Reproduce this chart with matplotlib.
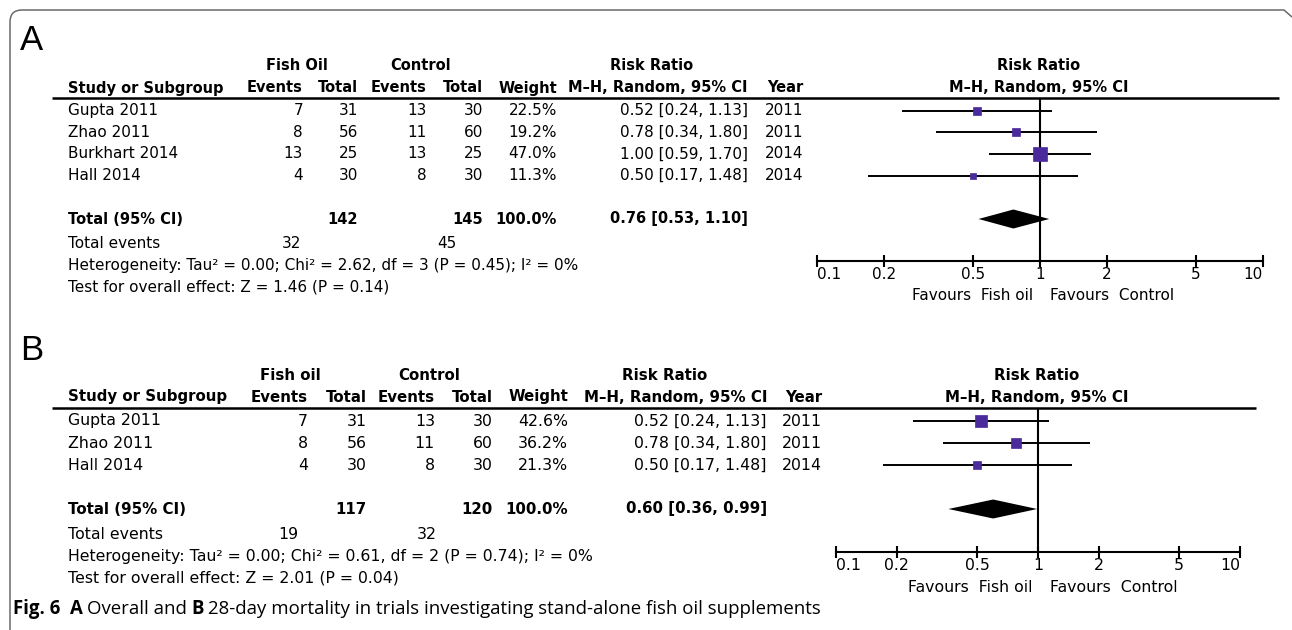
import numpy as np
import matplotlib.pyplot as plt
from matplotlib.path import Path
from matplotlib.patches import PathPatch, Polygon

W, H = 1292, 630
PURPLE = '#4b2a9c'

plt.rcParams['font.family'] = ['DejaVu Sans']

# Panel A: overall mortality
studies_a = ['Gupta 2011', 'Zhao 2011', 'Burkhart 2014', 'Hall 2014']
fo_events_a = [7, 8, 13, 4]
fo_total_a = [31, 56, 25, 30]
ctl_events_a = [13, 11, 13, 8]
ctl_total_a = [30, 60, 25, 30]
weight_a = [22.5, 19.2, 47.0, 11.3]
rr_a = [0.52, 0.78, 1.00, 0.50]
lo_a = [0.24, 0.34, 0.59, 0.17]
hi_a = [1.13, 1.80, 1.70, 1.48]
year_a = [2011, 2011, 2014, 2014]
pooled_a = [0.76, 0.53, 1.10]
sum_total_a = [142, 145]
sum_events_a = [32, 45]
het_a = 'Heterogeneity: Tau² = 0.00; Chi² = 2.62, df = 3 (P = 0.45); I² = 0%'
overall_a = 'Test for overall effect: Z = 1.46 (P = 0.14)'

# Panel B: 28-day mortality
studies_b = ['Gupta 2011', 'Zhao 2011', 'Hall 2014']
fo_events_b = [7, 8, 4]
fo_total_b = [31, 56, 30]
ctl_events_b = [13, 11, 8]
ctl_total_b = [30, 60, 30]
weight_b = [42.6, 36.2, 21.3]
rr_b = [0.52, 0.78, 0.50]
lo_b = [0.24, 0.34, 0.17]
hi_b = [1.13, 1.80, 1.48]
year_b = [2011, 2011, 2014]
pooled_b = [0.60, 0.36, 0.99]
sum_total_b = [117, 120]
sum_events_b = [19, 32]
het_b = 'Heterogeneity: Tau² = 0.00; Chi² = 0.61, df = 2 (P = 0.74); I² = 0%'
overall_b = 'Test for overall effect: Z = 2.01 (P = 0.04)'

tick_vals = [0.1, 0.2, 0.5, 1, 2, 5, 10]
tick_labels = ['0.1', '0.2', '0.5', '1', '2', '5', '10']

# layout (pixel units) for each panel
lay_a = dict(fs=10.5, letter='A', letter_y=41, hdr1=66, hdr2=88, line_y=98, line_x=(52, 1279),
             y0=110.5, dy=21.7, ev1=303, tot1=358, ev2=427, tot2=483, wt=557,
             ci=748, yr=803, fo_c=297, ctl_c=421, rr_c=652, ev_x=(301, 456),
             fx=(817, 1263), axis_y=261, f_c=1039, fo_name='Fish Oil')
lay_b = dict(fs=10.8, letter='B', letter_y=350, hdr1=375, hdr2=397, line_y=408, line_x=(52, 1256),
             y0=421, dy=22, ev1=308, tot1=367, ev2=435, tot2=493, wt=568,
             ci=767, yr=822, fo_c=290, ctl_c=429, rr_c=665, ev_x=(298, 437),
             fx=(836, 1240), axis_y=552, f_c=1037, fo_name='Fish oil')


def draw_panel(fig, ax, lay, studies, fo_ev, fo_tot, c_ev, c_tot, wts, rr, lo, hi, years,
               pooled, totals, events, het, overall):
    fs = lay['fs']
    t = dict(fontsize=fs * 1.05, va='center')
    b = dict(fontsize=fs, va='center', fontweight='bold')

    ax.text(20, lay['letter_y'], lay['letter'], fontsize=25, family='Liberation Sans',
            va='center', ha='left')

    # header
    ax.text(lay['fo_c'], lay['hdr1'], lay['fo_name'], ha='center', **b)
    ax.text(lay['ctl_c'], lay['hdr1'], 'Control', ha='center', **b)
    ax.text(lay['rr_c'], lay['hdr1'], 'Risk Ratio', ha='center', **b)
    ax.text(lay['f_c'], lay['hdr1'], 'Risk Ratio', ha='center', **b)
    y2 = lay['hdr2']
    ax.text(68, y2, 'Study or Subgroup', ha='left', **b)
    ax.text(lay['ev1'], y2, 'Events', ha='right', **b)
    ax.text(lay['tot1'], y2, 'Total', ha='right', **b)
    ax.text(lay['ev2'], y2, 'Events', ha='right', **b)
    ax.text(lay['tot2'], y2, 'Total', ha='right', **b)
    ax.text(lay['wt'], y2, 'Weight', ha='right', **b)
    ax.text(lay['ci'], y2, 'M–H, Random, 95% CI', ha='right', **b)
    ax.text(lay['yr'], y2, 'Year', ha='right', **b)
    ax.text(lay['f_c'], y2, 'M–H, Random, 95% CI', ha='center', **b)
    ax.plot(lay['line_x'], [lay['line_y']] * 2, color='black', lw=1.8, solid_capstyle='butt')

    rows = lay['y0'] + lay['dy'] * np.arange(len(studies))
    for i, y in enumerate(rows):
        ax.text(68, y, studies[i], ha='left', **t)
        ax.text(lay['ev1'], y, str(fo_ev[i]), ha='right', **t)
        ax.text(lay['tot1'], y, str(fo_tot[i]), ha='right', **t)
        ax.text(lay['ev2'], y, str(c_ev[i]), ha='right', **t)
        ax.text(lay['tot2'], y, str(c_tot[i]), ha='right', **t)
        ax.text(lay['wt'], y, f'{wts[i]:.1f}%', ha='right', **t)
        ax.text(lay['ci'], y, f'{rr[i]:.2f} [{lo[i]:.2f}, {hi[i]:.2f}]', ha='right', **t)
        ax.text(lay['yr'], y, str(years[i]), ha='right', **t)

    # pooled row sits after one blank row
    y_tot = lay['y0'] + lay['dy'] * (len(studies) + 1)
    ax.text(68, y_tot, 'Total (95% CI)', ha='left', **b)
    ax.text(lay['tot1'], y_tot, str(totals[0]), ha='right', **b)
    ax.text(lay['tot2'], y_tot, str(totals[1]), ha='right', **b)
    ax.text(lay['wt'], y_tot, '100.0%', ha='right', **b)
    ax.text(lay['ci'], y_tot, f'{pooled[0]:.2f} [{pooled[1]:.2f}, {pooled[2]:.2f}]',
            ha='right', **b)
    y_ev = y_tot + lay['dy'] * 1.15
    ax.text(68, y_ev, 'Total events', ha='left', **t)
    ax.text(lay['ev_x'][0], y_ev, str(events[0]), ha='right', **t)
    ax.text(lay['ev_x'][1], y_ev, str(events[1]), ha='right', **t)
    ax.text(68, y_ev + lay['dy'], het, ha='left', **t)
    ax.text(68, y_ev + 2 * lay['dy'], overall, ha='left', **t)

    # forest plot on a log risk-ratio axis
    x0, x1 = lay['fx']
    top, bot = lay['line_y'], lay['axis_y']
    axf = fig.add_axes([x0 / W, 1 - bot / H, (x1 - x0) / W, (bot - top) / H])
    axf.set_xscale('log')
    axf.set_xlim(0.1, 10)
    axf.set_ylim(bot, top)
    axf.patch.set_visible(False)
    for s in ['top', 'right', 'left']:
        axf.spines[s].set_visible(False)
    axf.spines['bottom'].set_linewidth(1.5)
    axf.set_xticks(tick_vals)
    axf.set_xticklabels(tick_labels)
    axf.minorticks_off()
    axf.set_yticks([])
    axf.tick_params(axis='x', direction='inout', length=9, width=1.5, labelsize=fs * 1.05, pad=0)
    labs = axf.get_xticklabels()
    labs[0].set_ha('left')
    labs[-1].set_ha('right')
    axf.axvline(1, color='black', lw=1.5)

    for i, y in enumerate(rows):
        axf.plot([lo[i], hi[i]], [y, y], color='black', lw=1.4, solid_capstyle='butt')
        side = (2.86 + 0.216 * wts[i]) * 72 / 100
        axf.plot(rr[i], y, marker='s', ms=side, color=PURPLE, mec=PURPLE, mew=0.5)

    hh = 9.5
    diamond = Polygon([(pooled[1], y_tot), (pooled[0], y_tot - hh), (pooled[2], y_tot),
                       (pooled[0], y_tot + hh)], closed=True, color='black', lw=0)
    axf.add_patch(diamond)

    y_fav = bot + 35
    ax.text(1033, y_fav, 'Favours  Fish oil', ha='right', **t)
    ax.text(1050, y_fav, 'Favours  Control', ha='left', **t)


fig = plt.figure(figsize=(W / 100, H / 100), dpi=100)
ax = fig.add_axes([0, 0, 1, 1])
ax.set_xlim(0, W)
ax.set_ylim(H, 0)
ax.axis('off')

# rounded frame around the figure
verts = [(10, 630), (10, 22), (10, 10), (22, 10), (1284, 10), (1292, 17)]
codes = [Path.MOVETO, Path.LINETO, Path.CURVE3, Path.CURVE3, Path.LINETO, Path.LINETO]
ax.add_patch(PathPatch(Path(verts, codes), fill=False, edgecolor='#6a6a6a', lw=1.1))

draw_panel(fig, ax, lay_a, studies_a, fo_events_a, fo_total_a, ctl_events_a, ctl_total_a,
           weight_a, rr_a, lo_a, hi_a, year_a, pooled_a, sum_total_a, sum_events_a,
           het_a, overall_a)
draw_panel(fig, ax, lay_b, studies_b, fo_events_b, fo_total_b, ctl_events_b, ctl_total_b,
           weight_b, rr_b, lo_b, hi_b, year_b, pooled_b, sum_total_b, sum_events_b,
           het_b, overall_b)

# caption, mixed bold and regular runs
renderer = fig.canvas.get_renderer()
cap = [('Fig. 6', 'bold', 10), ('A', 'bold', 4), ('Overall and', 'normal', 4),
       ('B', 'bold', 4), ('28-day mortality in trials investigating stand-alone fish oil supplements',
                          'normal', 0)]
x = 13
for txt, wgt, gap in cap:
    tx = ax.text(x, 609, txt, fontsize=13.4, fontweight=wgt, family='Open Sans',
                 va='center', ha='left')
    bb = tx.get_window_extent(renderer)
    x += bb.width + gap

fig.savefig('out.png', dpi=100)
